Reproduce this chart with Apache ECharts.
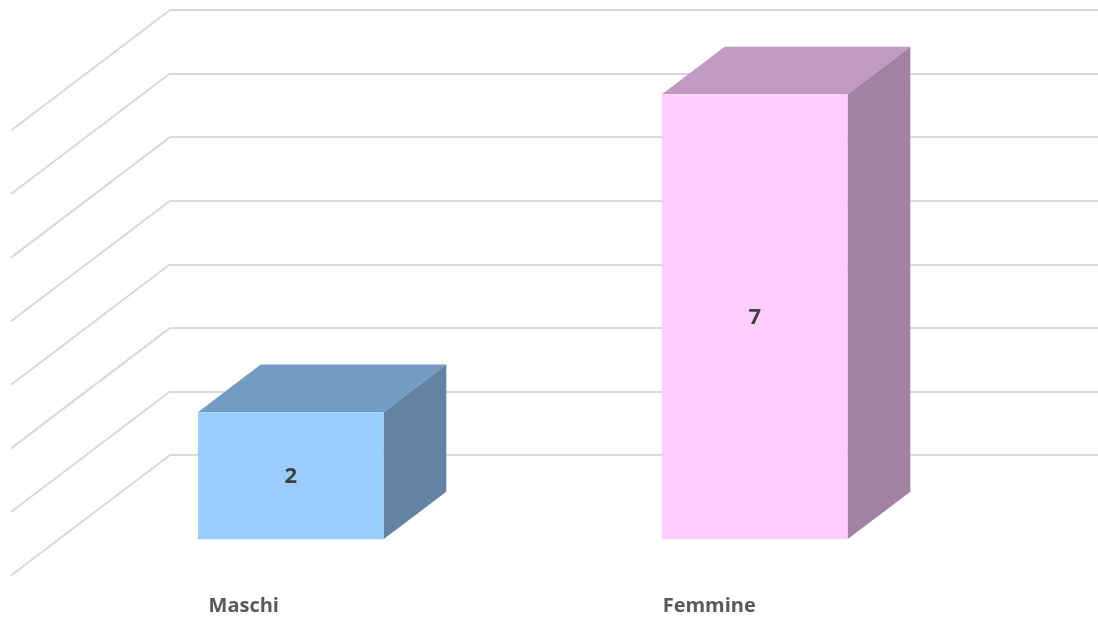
<!DOCTYPE html>
<html>
<head>
<meta charset="utf-8">
<script src="https://cdn.jsdelivr.net/npm/echarts@6/dist/echarts.min.js"></script>
<style>
  html, body { margin: 0; padding: 0; background: #ffffff; }
  #chart { width: 1098px; height: 621px; }
</style>
</head>
<body>
<div id="chart"></div>
<script>
// Chart data
const categories = ['Maschi', 'Femmine'];
const counts = [2, 7];
const wallTicks = [0, 1, 2, 3, 4, 5, 6, 7];

// Face colours for each bar: front, top, side
const faceColors = [
  { front: '#99CCFF', top: '#739BC3', side: '#6383A4' },
  { front: '#FFCCFF', top: '#C19AC3', side: '#A282A2' }
];

// Perspective: the side wall runs from the back wall towards the viewer
const WALL_DX = 159, WALL_DY = 120.5;
const BAR_FRONT = 0.70, BAR_BACK = 0.305;   // depth fractions of the bar faces
const GRID_COLOR = '#D9D9D9';
const FONT = '"Open Sans", Lato, sans-serif';

const chart = echarts.init(document.getElementById('chart'));

const plotW = 931, plotH = 445, backLeft = 170, backTop = 10;

const option = {
  animation: false,
  backgroundColor: '#ffffff',
  grid: [
    // back wall
    { left: backLeft, top: backTop, width: plotW, height: plotH },
    // front plane (category labels)
    { left: backLeft - WALL_DX, top: backTop + WALL_DY, width: plotW, height: plotH }
  ],
  xAxis: [
    { type: 'category', gridIndex: 0, data: categories, show: false },
    {
      type: 'category', gridIndex: 1, data: categories,
      axisLine: { show: false }, axisTick: { show: false }, splitLine: { show: false },
      axisLabel: {
        margin: 21,
        color: '#595959',
        fontFamily: FONT,
        fontWeight: 'bold',
        fontSize: 20
      }
    }
  ],
  yAxis: [
    {
      type: 'value', gridIndex: 0, min: 0, max: 7, interval: 1,
      axisLine: { show: false }, axisTick: { show: false }, axisLabel: { show: false },
      splitLine: { show: true, lineStyle: { color: GRID_COLOR, width: 2 } }
    },
    { type: 'value', gridIndex: 1, min: 0, max: 7, interval: 1, show: false, splitLine: { show: false } }
  ],
  series: [
    {
      // side wall gridlines
      type: 'custom',
      xAxisIndex: 0, yAxisIndex: 0,
      silent: true,
      z: 1,
      data: wallTicks.map(v => [0, v]),
      renderItem: function (params, api) {
        const cs = params.coordSys;
        const y = api.coord([0, api.value(1)])[1];
        return {
          type: 'line',
          shape: { x1: cs.x, y1: y, x2: cs.x - WALL_DX, y2: y + WALL_DY },
          style: { stroke: GRID_COLOR, lineWidth: 2 }
        };
      }
    },
    {
      // 3D bars
      type: 'custom',
      xAxisIndex: 0, yAxisIndex: 0,
      z: 5,
      data: counts.map((v, i) => [i, v]),
      renderItem: function (params, api) {
        const idx = params.dataIndex;
        const c = faceColors[idx];
        const base = api.coord([api.value(0), 0]);
        const top = api.coord([api.value(0), api.value(1)]);
        const w = api.size([1, 0])[0] * 0.4;
        const fx = -WALL_DX * BAR_FRONT, fy = WALL_DY * BAR_FRONT;
        const bx = -WALL_DX * BAR_BACK, by = WALL_DY * BAR_BACK;
        const L = base[0] - w / 2, R = base[0] + w / 2;
        const yT = top[1], yB = base[1];
        const fTL = [L + fx, yT + fy], fTR = [R + fx, yT + fy];
        const fBR = [R + fx, yB + fy], fBL = [L + fx, yB + fy];
        const bTL = [L + bx, yT + by], bTR = [R + bx, yT + by];
        const bBR = [R + bx, yB + by];
        return {
          type: 'group',
          children: [
            { type: 'polygon', shape: { points: [fTL, fTR, bTR, bTL] }, style: { fill: c.top } },
            { type: 'polygon', shape: { points: [fTR, bTR, bBR, fBR] }, style: { fill: c.side } },
            { type: 'polygon', shape: { points: [fTL, fTR, fBR, fBL] }, style: { fill: c.front } },
            {
              type: 'text',
              style: {
                text: String(api.value(1)),
                x: (fTL[0] + fTR[0]) / 2,
                y: (fTL[1] + fBL[1]) / 2 + 1,
                align: 'center',
                verticalAlign: 'middle',
                fill: '#404040',
                font: 'bold 22px ' + FONT
              }
            }
          ]
        };
      }
    }
  ]
};

chart.setOption(option);
</script>
</body>
</html>
